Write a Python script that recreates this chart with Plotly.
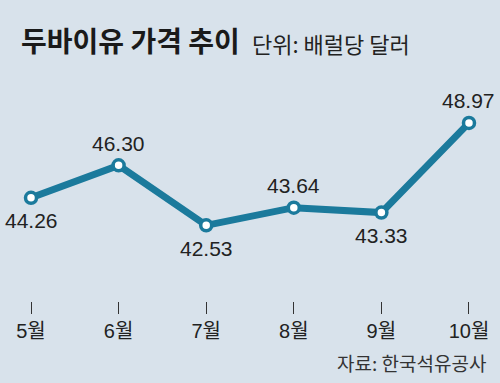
import plotly.graph_objects as go

months = ["5월", "6월", "7월", "8월", "9월", "10월"]
prices = [44.26, 46.30, 42.53, 43.64, 43.33, 48.97]
label_pos = ["below", "above", "below", "above", "below", "above"]

title_text = "두바이유 가격 추이"
unit_text = "단위: 배럴당 달러"
source_text = "자료: 한국석유공사"

bg = "#d8e2eb"
line_color = "#1b7a9c"
num_font = "Liberation Sans Narrow, Liberation Sans, Noto Sans CJK KR"

x_idx = list(range(len(months)))

fig = go.Figure()
fig.add_trace(go.Scatter(
    x=x_idx, y=prices, mode="lines+markers",
    line=dict(color=line_color, width=7),
    marker=dict(size=11, color="white", line=dict(color=line_color, width=3.5)),
    hoverinfo="skip",
))

annotations = []
for xi, v, pos in zip(x_idx, prices, label_pos):
    annotations.append(dict(
        x=xi, y=v, xref="x", yref="y", text=f"{v:.2f}", showarrow=False,
        yshift=-23 if pos == "below" else 22,
        font=dict(family=num_font, size=21, color="#222222"),
    ))

H = 383
W = 500
B = 82

def px(x, y):
    return x / W, (H - y - B) / (H - B)

tx, ty = px(19, 40)
annotations.append(dict(
    x=tx, y=ty, xref="paper", yref="paper", text=f"<b>{title_text}</b>",
    showarrow=False, xanchor="left", yanchor="middle",
    font=dict(family="Noto Sans CJK KR", size=28, color="#1a1a1a"),
))
ux, uy = px(250, 43)
annotations.append(dict(
    x=ux, y=uy, xref="paper", yref="paper", text=unit_text,
    showarrow=False, xanchor="left", yanchor="middle",
    font=dict(family="Noto Sans CJK KR", size=22, color="#222222"),
))
sx, sy = px(488, 362)
annotations.append(dict(
    x=sx, y=sy, xref="paper", yref="paper", text=source_text,
    showarrow=False, xanchor="right", yanchor="middle",
    font=dict(family="Noto Sans CJK KR", size=19, color="#333333"),
))

fig.update_layout(
    width=W, height=H,
    margin=dict(l=0, r=0, t=0, b=B),
    paper_bgcolor=bg, plot_bgcolor=bg,
    showlegend=False,
    annotations=annotations,
    xaxis=dict(
        range=[-0.354, 5.354], tickmode="array", tickvals=x_idx, ticktext=months,
        showgrid=False, zeroline=False, showline=False,
        ticks="outside", ticklen=12, tickwidth=1.2, tickcolor="#333333",
        tickfont=dict(family=num_font, size=20, color="#222222"),
        fixedrange=True,
    ),
    yaxis=dict(
        range=[37.77, 56.70], visible=False, fixedrange=True,
    ),
)

fig.write_html(
    "out.html",
    config={"displayModeBar": False},
    post_script="document.body.style.margin='0';document.body.style.background='" + bg + "';",
)
